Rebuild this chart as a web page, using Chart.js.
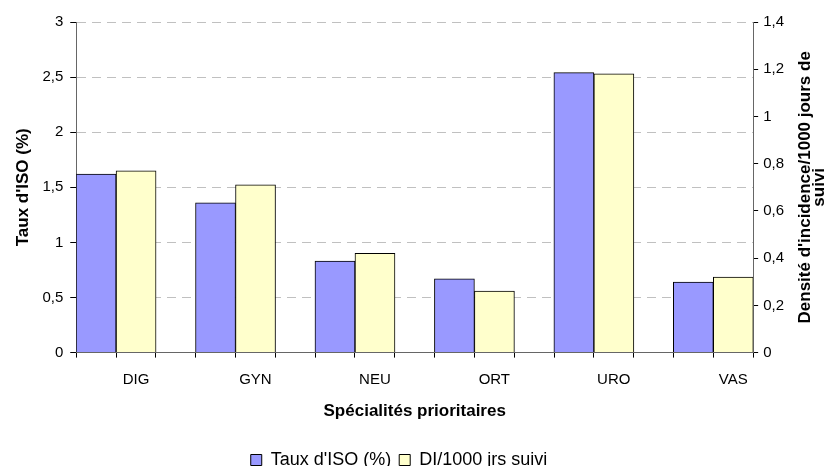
<!DOCTYPE html>
<html>
<head>
<meta charset="utf-8">
<script src="https://cdn.jsdelivr.net/npm/chart.js@4/dist/chart.umd.min.js"></script>
<style>
    html, body { margin: 0; padding: 0; background: #fff; }
    #wrap { width: 836px; height: 466px; }
</style>
</head>
<body>
<div id="wrap"><canvas id="chart"></canvas></div>
<script>
// data
const categories = ["DIG", "GYN", "NEU", "ORT", "URO", "VAS"];
const tauxIso = [1.62, 1.36, 0.83, 0.67, 2.54, 0.64];
const densite = [0.77, 0.71, 0.42, 0.26, 1.18, 0.32];
const leftTicks = [0, 0.5, 1, 1.5, 2, 2.5, 3];
const rightTicks = [0, 0.2, 0.4, 0.6, 0.8, 1, 1.2, 1.4];

const FONT = "Arial, 'Liberation Sans', sans-serif";
const EDGE = 1 / 3;   // half a group, in category units

// tick mark at every bar edge, label under the second bar (like the original)
function isLabelTick(v) {
    return categories.some((c, i) => Math.abs(v - (i + EDGE / 2)) < 1e-6);
}

function comma(v) {
    return String(Math.round(v * 10) / 10).replace(".", ",");
}

// right title reads bottom-to-top in the original, Chart.js would flip it
const rightTitle = {
    id: "rightTitle",
    afterDraw(chart) {
        const ctx = chart.ctx;
        const area = chart.chartArea;
        const cy = (area.top + area.bottom) / 2;
        ctx.save();
        ctx.fillStyle = "#000";
        ctx.font = "bold 17px " + FONT;
        ctx.textAlign = "center";
        ctx.textBaseline = "middle";
        ctx.translate(805, cy);
        ctx.rotate(-Math.PI / 2);
        ctx.fillText("Densité d'incidence/1000 jours de", 0, 0);
        ctx.fillText("suivi", 0, 14);
        ctx.restore();
    }
};

new Chart(document.getElementById("chart"), {
    type: "bar",
    data: {
        datasets: [
            {
                label: "Taux d'ISO (%)",
                data: tauxIso.map((y, i) => ({ x: i, y: y })),
                backgroundColor: "#9999ff",
                borderColor: "#000",
                borderWidth: 1,
                barThickness: 40,
                yAxisID: "y"
            },
            {
                label: "DI/1000 jrs suivi",
                data: densite.map((y, i) => ({ x: i, y: y })),
                backgroundColor: "#ffffcc",
                borderColor: "#000",
                borderWidth: 1,
                barThickness: 40,
                yAxisID: "y1"
            }
        ]
    },
    options: {
        responsive: true,
        maintainAspectRatio: false,
        animation: false,
        layout: { padding: { top: 22, right: 47, left: 9, bottom: -13 } },
        plugins: {
            legend: {
                position: "bottom",
                labels: {
                    font: { family: FONT, size: 18 },
                    color: "#000",
                    boxWidth: 11,
                    boxHeight: 11,
                    padding: 8
                }
            },
            tooltip: { enabled: false }
        },
        scales: {
            x: {
                type: "linear",
                offset: false,
                min: -EDGE,
                max: categories.length - 1 + EDGE,
                afterBuildTicks: scale => {
                    const t = [];
                    categories.forEach((c, i) => {
                        t.push({ value: i - EDGE });
                        t.push({ value: i });
                        t.push({ value: i + EDGE / 2 });
                        t.push({ value: i + EDGE });
                    });
                    scale.ticks = t;
                },
                ticks: {
                    autoSkip: false,
                    maxRotation: 0,
                    padding: 13,
                    color: "#000",
                    font: { family: FONT, size: 15 },
                    callback: v => {
                        if (!isLabelTick(v)) return "";
                        return categories[Math.round(v - EDGE / 2)];
                    }
                },
                grid: {
                    offset: false,
                    drawOnChartArea: false,
                    tickLength: 5,
                    tickColor: ctx => isLabelTick(ctx.tick.value) ? "rgba(0,0,0,0)" : "#000"
                },
                border: { color: "#666", width: 1 },
                title: {
                    display: true,
                    text: "Spécialités prioritaires",
                    color: "#000",
                    font: { family: FONT, size: 17, weight: "bold" },
                    padding: { top: 0, bottom: 21 }
                }
            },
            y: {
                position: "left",
                min: 0,
                max: 3,
                afterBuildTicks: scale => { scale.ticks = leftTicks.map(v => ({ value: v })); },
                ticks: {
                    color: "#000",
                    padding: 7,
                    font: { family: FONT, size: 15 },
                    callback: v => comma(v)
                },
                grid: {
                    color: ctx => ctx.tick.value === 0 ? "rgba(0,0,0,0)" : "#c0c0c0",
                    tickColor: "#000",
                    tickLength: 6,
                    tickBorderDash: []
                },
                border: { color: "#666", dash: [9, 6] },
                title: {
                    display: true,
                    text: "Taux d'ISO (%)",
                    color: "#000",
                    font: { family: FONT, size: 17, weight: "bold" },
                    padding: { top: 4, bottom: 2 }
                }
            },
            y1: {
                position: "right",
                min: 0,
                max: 1.4,
                afterBuildTicks: scale => { scale.ticks = rightTicks.map(v => ({ value: v })); },
                ticks: {
                    color: "#000",
                    padding: 5,
                    font: { family: FONT, size: 15 },
                    callback: v => comma(v)
                },
                grid: {
                    drawOnChartArea: false,
                    tickColor: "#000",
                    tickLength: 5
                },
                border: { color: "#666" }
            }
        }
    },
    plugins: [rightTitle]
});
</script>
</body>
</html>
